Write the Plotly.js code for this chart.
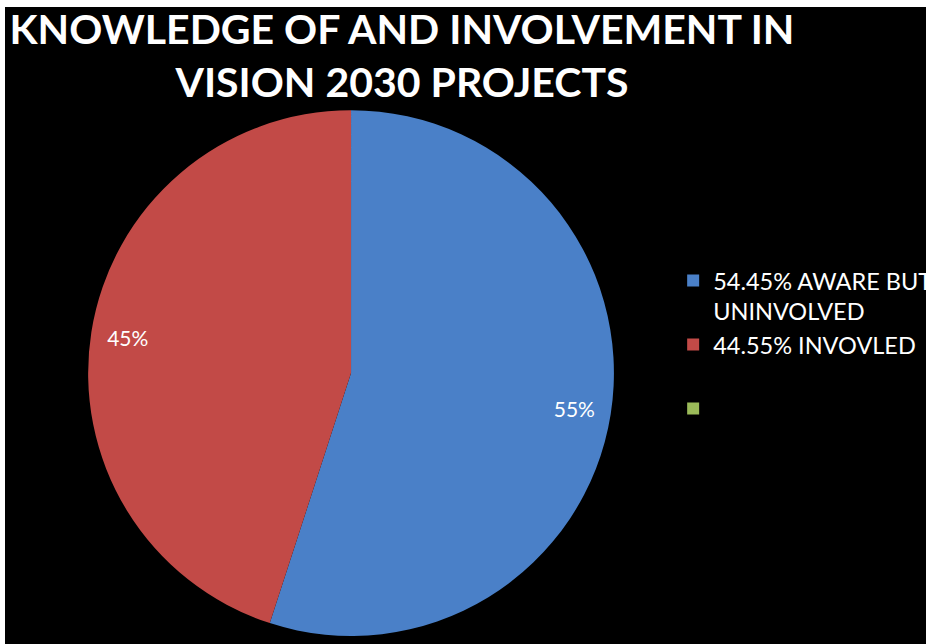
<!DOCTYPE html>
<html>
<head>
<meta charset="utf-8">
<script src="https://cdn.plot.ly/plotly-3.0.1.min.js"></script>
<style>
  html, body { margin: 0; padding: 0; background: #ffffff; overflow: hidden; }
  #chart { position: absolute; left: 5px; top: 7px; width: 960px; height: 637px; }
</style>
</head>
<body>
<div id="chart"></div>
<script>
const sliceLabels = ["54.45% AWARE BUT<br>UNINVOLVED", "44.55% INVOVLED<br>&nbsp;", "&nbsp;"];
const sliceValues = [54.45, 44.55, 0];
const sliceColors = ["#4a80c8", "#c24a47", "#9bbb59"];
const sliceText = ["%{percent:.0%}", "%{percent:.0%}", ""];

const pieDomain = { x: [0.0865, 0.6344], y: [0.0126, 0.838] };

const data = [
  {
    type: "pie",
    labels: sliceLabels,
    values: sliceValues,
    sort: false,
    direction: "clockwise",
    rotation: 0,
    marker: { colors: sliceColors, line: { width: 0 } },
    textinfo: "none",
    hoverinfo: "label+percent",
    domain: pieDomain
  },
  {
    type: "pie",
    labels: sliceLabels,
    values: sliceValues,
    sort: false,
    direction: "clockwise",
    rotation: 0,
    hole: 0.72,
    showlegend: false,
    marker: { colors: ["rgba(0,0,0,0)", "rgba(0,0,0,0)", "rgba(0,0,0,0)"], line: { width: 0 } },
    texttemplate: sliceText,
    textposition: "inside",
    insidetextorientation: "horizontal",
    textfont: { family: "Lato, sans-serif", size: 21, color: "#ffffff" },
    hoverinfo: "skip",
    domain: pieDomain
  }
];

const layout = {
  width: 960,
  height: 637,
  paper_bgcolor: "#000000",
  plot_bgcolor: "#000000",
  margin: { l: 0, r: 0, t: 0, b: 0 },
  title: {
    text: "KNOWLEDGE OF AND INVOLVEMENT IN<br>VISION 2030 PROJECTS",
    font: { family: "Lato, sans-serif", size: 41, color: "#ffffff", weight: "bold" },
    x: 0.4135,
    xanchor: "center",
    xref: "container",
    y: 0.942,
    yanchor: "top",
    yref: "container"
  },
  showlegend: true,
  legend: {
    x: 0.696,
    xanchor: "left",
    y: 0.605,
    yanchor: "top",
    valign: "top",
    bgcolor: "rgba(0,0,0,0)",
    font: { family: "Lato, sans-serif", size: 23.5, color: "#ffffff" },
    traceorder: "normal"
  }
};

Plotly.newPlot("chart", data, layout, { displayModeBar: false, staticPlot: true });
</script>
</body>
</html>
